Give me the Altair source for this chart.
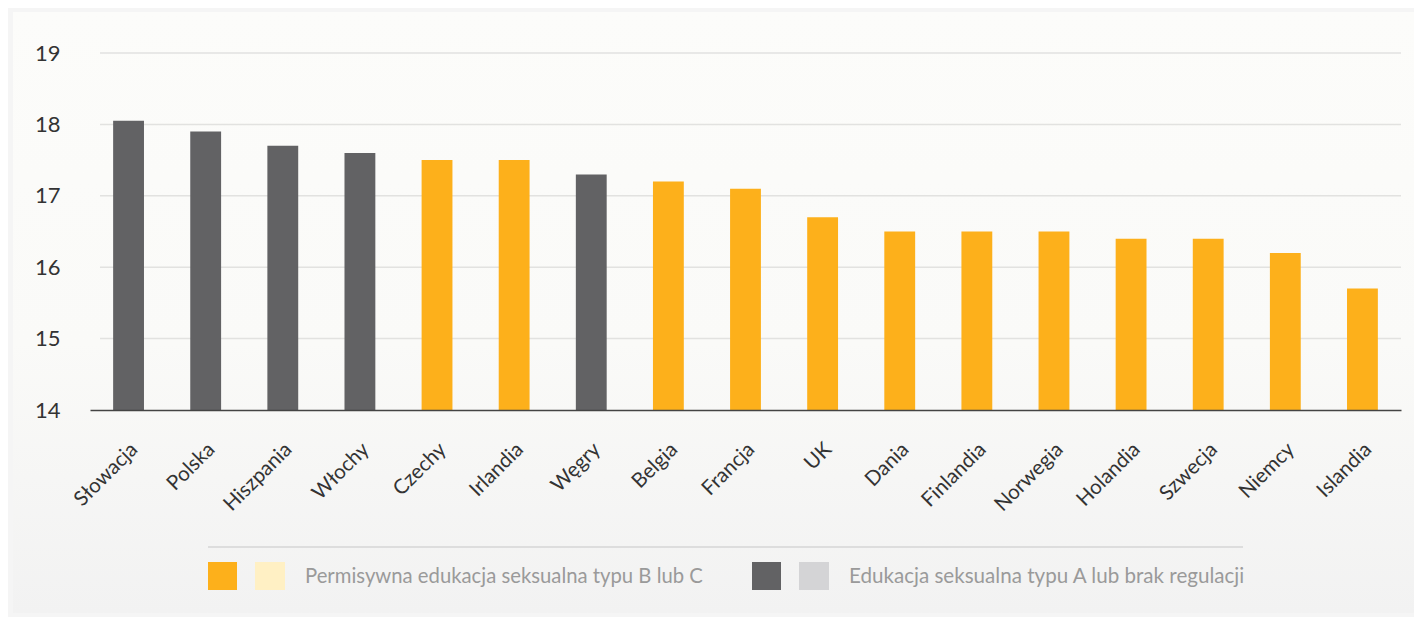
import altair as alt
import pandas as pd

countries = ["Słowacja", "Polska", "Hiszpania", "Włochy", "Czechy", "Irlandia", "Węgry",
             "Belgia", "Francja", "UK", "Dania", "Finlandia", "Norwegia", "Holandia",
             "Szwecja", "Niemcy", "Islandia"]
values = [18.05, 17.9, 17.7, 17.6, 17.5, 17.5, 17.3, 17.2, 17.1, 16.7, 16.5, 16.5, 16.5,
          16.4, 16.4, 16.2, 15.7]
groups = ["A", "A", "A", "A", "B", "B", "A", "B", "B", "B", "B", "B", "B", "B", "B", "B", "B"]

group_names = ["B", "A"]
group_colors = ["#FDB01B", "#626264"]
legend_labels = ["Permisywna edukacja seksualna typu B lub C",
                 "Edukacja seksualna typu A lub brak regulacji"]
legend_light = ["#FFF0C4", "#D4D4D6"]

y_ticks = [14, 15, 16, 17, 18, 19]

W, H = 1311, 357

df = pd.DataFrame({"country": countries, "value": values, "group": groups})

card = alt.Chart(pd.DataFrame({"k": [0]})).mark_rect(
    fill=alt.Gradient(
        gradient="linear", x1=0, x2=0, y1=0, y2=1,
        stops=[alt.GradientStop(color="#FCFCFA", offset=0),
               alt.GradientStop(color="#FAFAF8", offset=0.55),
               alt.GradientStop(color="#F2F2F2", offset=1)]
    )
).encode(x=alt.value(-77), x2=alt.value(1340), y=alt.value(-41), y2=alt.value(560))

grid = alt.Chart(pd.DataFrame({"tick": y_ticks[1:]})).mark_rule(
    color="#E2E2E0", strokeWidth=1.5
).encode(y=alt.Y("tick:Q"), x=alt.value(10), x2=alt.value(W))

bars = alt.Chart(df).mark_bar().encode(
    x=alt.X("country:N", sort=countries,
            scale=alt.Scale(paddingInner=0.6, paddingOuter=0.3),
            axis=alt.Axis(title=None, labelAngle=-45, labelAlign="right",
                          labelBaseline="middle", labelFontSize=20.5, labelColor="#333333",
                          labelFont="Lato", labelPadding=36, labelOffset=6, ticks=False,
                          domainColor="#444444", domainWidth=1.5, zindex=1)),
    y=alt.Y("value:Q", scale=alt.Scale(domain=[14, 19], nice=False, zero=False),
            axis=alt.Axis(title=None, values=y_ticks, format="d", labelFontSize=22,
                          labelColor="#333333", labelFont="Lato", labelPadding=30,
                          ticks=False, domain=False, grid=False, zindex=1)),
    y2=alt.datum(14),
    color=alt.Color("group:N", scale=alt.Scale(domain=group_names, range=group_colors),
                    legend=None),
)

# custom legend (two swatches per entry, as in the reference)
leg_line = alt.Chart(pd.DataFrame({"k": [0]})).mark_rule(color="#D6D6D6", strokeWidth=1.5).encode(
    x=alt.value(118), x2=alt.value(1153), y=alt.value(494))

leg_df = pd.DataFrame({"label": legend_labels, "dark": group_colors, "light": legend_light})
legend_layers = []
x_starts = [118, 662]
font_sizes = [20.3, 20.6]
for i in range(2):
    sub = leg_df.iloc[[i]]
    x0 = x_starts[i]
    sq1 = alt.Chart(sub).mark_rect().encode(
        x=alt.value(x0), x2=alt.value(x0 + 29), y=alt.value(509), y2=alt.value(537),
        fill=alt.Fill("dark:N", scale=None))
    sq2 = alt.Chart(sub).mark_rect().encode(
        x=alt.value(x0 + 47), x2=alt.value(x0 + 77), y=alt.value(509), y2=alt.value(537),
        fill=alt.Fill("light:N", scale=None))
    txt = alt.Chart(sub).mark_text(align="left", baseline="middle", font="Lato",
                                   fontSize=font_sizes[i], color="#9A9A9A").encode(
        x=alt.value(x0 + 97), y=alt.value(524), text="label:N")
    legend_layers += [sq1, sq2, txt]

chart = alt.layer(card, grid, bars, leg_line, *legend_layers).properties(
    width=W, height=H,
    background="#F5F5F5",
    padding={"left": 82, "top": 45, "right": 13, "bottom": 207},
    autosize=alt.AutoSizeParams(type="none"),
).configure_view(stroke=None)

chart.save("out.html", embed_options={"renderer": "svg", "actions": False})
